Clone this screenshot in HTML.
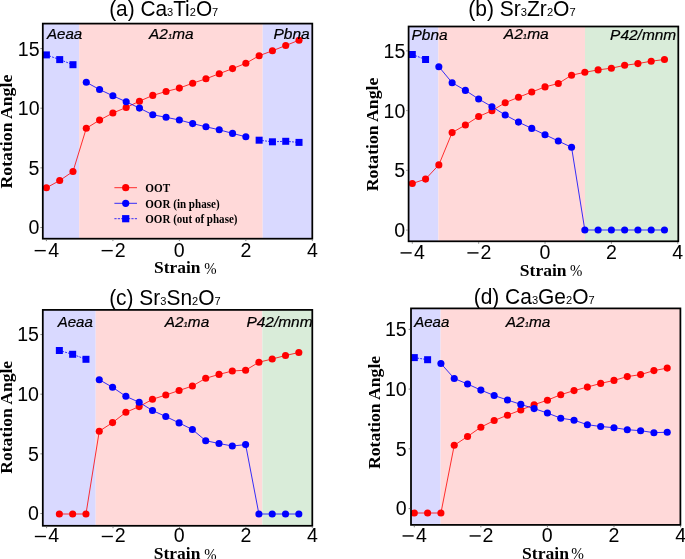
<!DOCTYPE html>
<html><head><meta charset="utf-8">
<style>
html,body{margin:0;padding:0;background:#fff;}
body{width:685px;height:559px;overflow:hidden;position:relative;}
svg{position:absolute;left:0;top:0;will-change:transform;}
</style></head><body>
<svg width="685" height="559" viewBox="0 0 685 559">
<rect x="42.8" y="23.6" width="36.4" height="215.1" fill="#d9d9ff"/>
<rect x="79.2" y="23.6" width="183.5" height="215.1" fill="#ffd9d9"/>
<rect x="262.7" y="23.6" width="49.6" height="215.1" fill="#d9d9ff"/>
<clipPath id="cpa"><rect x="42.8" y="23.6" width="269.5" height="215.1"/></clipPath>
<g clip-path="url(#cpa)">
<polyline points="46.4,187.8 59.7,180.5 72.99,171.5 86.29,128.3 99.58,120.1 112.88,113 126.18,107.5 139.47,101.2 152.77,95.4 166.06,91.5 179.36,88.1 192.66,83.2 205.95,78.8 219.25,73.7 232.54,68.6 245.84,63.3 259.14,55.7 272.43,50.8 285.73,45.5 299.02,40.2" fill="none" stroke="#ff0000" stroke-width="0.8"/>
<circle cx="46.4" cy="187.8" r="3.55" fill="#ff0000"/>
<circle cx="59.7" cy="180.5" r="3.55" fill="#ff0000"/>
<circle cx="72.99" cy="171.5" r="3.55" fill="#ff0000"/>
<circle cx="86.29" cy="128.3" r="3.55" fill="#ff0000"/>
<circle cx="99.58" cy="120.1" r="3.55" fill="#ff0000"/>
<circle cx="112.88" cy="113" r="3.55" fill="#ff0000"/>
<circle cx="126.18" cy="107.5" r="3.55" fill="#ff0000"/>
<circle cx="139.47" cy="101.2" r="3.55" fill="#ff0000"/>
<circle cx="152.77" cy="95.4" r="3.55" fill="#ff0000"/>
<circle cx="166.06" cy="91.5" r="3.55" fill="#ff0000"/>
<circle cx="179.36" cy="88.1" r="3.55" fill="#ff0000"/>
<circle cx="192.66" cy="83.2" r="3.55" fill="#ff0000"/>
<circle cx="205.95" cy="78.8" r="3.55" fill="#ff0000"/>
<circle cx="219.25" cy="73.7" r="3.55" fill="#ff0000"/>
<circle cx="232.54" cy="68.6" r="3.55" fill="#ff0000"/>
<circle cx="245.84" cy="63.3" r="3.55" fill="#ff0000"/>
<circle cx="259.14" cy="55.7" r="3.55" fill="#ff0000"/>
<circle cx="272.43" cy="50.8" r="3.55" fill="#ff0000"/>
<circle cx="285.73" cy="45.5" r="3.55" fill="#ff0000"/>
<circle cx="299.02" cy="40.2" r="3.55" fill="#ff0000"/>
<polyline points="86.29,82.3 99.58,89.5 112.88,95.8 126.18,101.8 139.47,108.1 152.77,114.8 166.06,117.3 179.36,120 192.66,123.6 205.95,126.8 219.25,129.8 232.54,133.4 245.84,136.8" fill="none" stroke="#0000ff" stroke-width="0.8"/>
<circle cx="86.29" cy="82.3" r="3.55" fill="#0000ff"/>
<circle cx="99.58" cy="89.5" r="3.55" fill="#0000ff"/>
<circle cx="112.88" cy="95.8" r="3.55" fill="#0000ff"/>
<circle cx="126.18" cy="101.8" r="3.55" fill="#0000ff"/>
<circle cx="139.47" cy="108.1" r="3.55" fill="#0000ff"/>
<circle cx="152.77" cy="114.8" r="3.55" fill="#0000ff"/>
<circle cx="166.06" cy="117.3" r="3.55" fill="#0000ff"/>
<circle cx="179.36" cy="120" r="3.55" fill="#0000ff"/>
<circle cx="192.66" cy="123.6" r="3.55" fill="#0000ff"/>
<circle cx="205.95" cy="126.8" r="3.55" fill="#0000ff"/>
<circle cx="219.25" cy="129.8" r="3.55" fill="#0000ff"/>
<circle cx="232.54" cy="133.4" r="3.55" fill="#0000ff"/>
<circle cx="245.84" cy="136.8" r="3.55" fill="#0000ff"/>
<polyline points="46.4,54.9 59.7,59.6 72.99,64.7" fill="none" stroke="#0000ff" stroke-width="0.8" stroke-dasharray="1.9 1.1"/>
<rect x="42.9" y="51.4" width="7.0" height="7.0" fill="#0000ff"/>
<rect x="56.2" y="56.1" width="7.0" height="7.0" fill="#0000ff"/>
<rect x="69.49" y="61.2" width="7.0" height="7.0" fill="#0000ff"/>
<polyline points="259.14,140.2 272.43,141.8 285.73,141.3 299.02,142.4" fill="none" stroke="#0000ff" stroke-width="0.8" stroke-dasharray="1.9 1.1"/>
<rect x="255.64" y="136.7" width="7.0" height="7.0" fill="#0000ff"/>
<rect x="268.93" y="138.3" width="7.0" height="7.0" fill="#0000ff"/>
<rect x="282.23" y="137.8" width="7.0" height="7.0" fill="#0000ff"/>
<rect x="295.52" y="138.9" width="7.0" height="7.0" fill="#0000ff"/>
</g>
<line x1="114.4" y1="187.7" x2="137.0" y2="187.7" stroke="#ff0000" stroke-width="0.8"/>
<circle cx="125.7" cy="187.7" r="3.6" fill="#ff0000"/>
<line x1="114.4" y1="203.3" x2="137.0" y2="203.3" stroke="#0000ff" stroke-width="0.8"/>
<circle cx="125.7" cy="203.3" r="3.6" fill="#0000ff"/>
<line x1="114.4" y1="218.7" x2="137.0" y2="218.7" stroke="#0000ff" stroke-width="0.8" stroke-dasharray="2.2 1.2"/>
<rect x="122.10000000000001" y="215.1" width="7.2" height="7.2" fill="#0000ff"/>
<rect x="42.8" y="23.6" width="269.5" height="215.1" fill="none" stroke="#000" stroke-width="1.75"/>
<line x1="40.4" y1="227.5" x2="42" y2="227.5" stroke="#666" stroke-width="0.8"/>
<line x1="40.4" y1="167.85" x2="42" y2="167.85" stroke="#666" stroke-width="0.8"/>
<line x1="40.4" y1="108.2" x2="42" y2="108.2" stroke="#666" stroke-width="0.8"/>
<line x1="40.4" y1="48.55" x2="42" y2="48.55" stroke="#666" stroke-width="0.8"/>
<line x1="46.4" y1="239.5" x2="46.4" y2="241.1" stroke="#666" stroke-width="0.8"/>
<line x1="112.88" y1="239.5" x2="112.88" y2="241.1" stroke="#666" stroke-width="0.8"/>
<line x1="179.36" y1="239.5" x2="179.36" y2="241.1" stroke="#666" stroke-width="0.8"/>
<line x1="245.84" y1="239.5" x2="245.84" y2="241.1" stroke="#666" stroke-width="0.8"/>
<line x1="312.32" y1="239.5" x2="312.32" y2="241.1" stroke="#666" stroke-width="0.8"/>
<rect x="408.6" y="26.5" width="29.8" height="214.8" fill="#d9d9ff"/>
<rect x="438.4" y="26.5" width="146.6" height="214.8" fill="#ffd9d9"/>
<rect x="585" y="26.5" width="93.3" height="214.8" fill="#d9ecd9"/>
<clipPath id="cpb"><rect x="408.6" y="26.5" width="269.7" height="214.8"/></clipPath>
<g clip-path="url(#cpb)">
<polyline points="412.3,183.5 425.57,179.1 438.84,164.9 452.12,132.6 465.39,125 478.66,116.5 491.93,110.7 505.2,102.7 518.48,97.3 531.75,92 545.02,86.9 558.29,83.5 571.56,75.2 584.84,72.3 598.11,69.9 611.38,68.2 624.65,65.3 637.92,63.6 651.2,61.2 664.47,59.5" fill="none" stroke="#ff0000" stroke-width="0.8"/>
<circle cx="412.3" cy="183.5" r="3.55" fill="#ff0000"/>
<circle cx="425.57" cy="179.1" r="3.55" fill="#ff0000"/>
<circle cx="438.84" cy="164.9" r="3.55" fill="#ff0000"/>
<circle cx="452.12" cy="132.6" r="3.55" fill="#ff0000"/>
<circle cx="465.39" cy="125" r="3.55" fill="#ff0000"/>
<circle cx="478.66" cy="116.5" r="3.55" fill="#ff0000"/>
<circle cx="491.93" cy="110.7" r="3.55" fill="#ff0000"/>
<circle cx="505.2" cy="102.7" r="3.55" fill="#ff0000"/>
<circle cx="518.48" cy="97.3" r="3.55" fill="#ff0000"/>
<circle cx="531.75" cy="92" r="3.55" fill="#ff0000"/>
<circle cx="545.02" cy="86.9" r="3.55" fill="#ff0000"/>
<circle cx="558.29" cy="83.5" r="3.55" fill="#ff0000"/>
<circle cx="571.56" cy="75.2" r="3.55" fill="#ff0000"/>
<circle cx="584.84" cy="72.3" r="3.55" fill="#ff0000"/>
<circle cx="598.11" cy="69.9" r="3.55" fill="#ff0000"/>
<circle cx="611.38" cy="68.2" r="3.55" fill="#ff0000"/>
<circle cx="624.65" cy="65.3" r="3.55" fill="#ff0000"/>
<circle cx="637.92" cy="63.6" r="3.55" fill="#ff0000"/>
<circle cx="651.2" cy="61.2" r="3.55" fill="#ff0000"/>
<circle cx="664.47" cy="59.5" r="3.55" fill="#ff0000"/>
<polyline points="438.84,66.7 452.12,82.7 465.39,90.4 478.66,99 491.93,106.7 505.2,115 518.48,122.1 531.75,128.4 545.02,134.7 558.29,141 571.56,147.3 584.84,230 598.11,230 611.38,230 624.65,230 637.92,230 651.2,230 664.47,230" fill="none" stroke="#0000ff" stroke-width="0.8"/>
<circle cx="438.84" cy="66.7" r="3.55" fill="#0000ff"/>
<circle cx="452.12" cy="82.7" r="3.55" fill="#0000ff"/>
<circle cx="465.39" cy="90.4" r="3.55" fill="#0000ff"/>
<circle cx="478.66" cy="99" r="3.55" fill="#0000ff"/>
<circle cx="491.93" cy="106.7" r="3.55" fill="#0000ff"/>
<circle cx="505.2" cy="115" r="3.55" fill="#0000ff"/>
<circle cx="518.48" cy="122.1" r="3.55" fill="#0000ff"/>
<circle cx="531.75" cy="128.4" r="3.55" fill="#0000ff"/>
<circle cx="545.02" cy="134.7" r="3.55" fill="#0000ff"/>
<circle cx="558.29" cy="141" r="3.55" fill="#0000ff"/>
<circle cx="571.56" cy="147.3" r="3.55" fill="#0000ff"/>
<circle cx="584.84" cy="230" r="3.55" fill="#0000ff"/>
<circle cx="598.11" cy="230" r="3.55" fill="#0000ff"/>
<circle cx="611.38" cy="230" r="3.55" fill="#0000ff"/>
<circle cx="624.65" cy="230" r="3.55" fill="#0000ff"/>
<circle cx="637.92" cy="230" r="3.55" fill="#0000ff"/>
<circle cx="651.2" cy="230" r="3.55" fill="#0000ff"/>
<circle cx="664.47" cy="230" r="3.55" fill="#0000ff"/>
<polyline points="412.3,54.5 425.57,59.5" fill="none" stroke="#0000ff" stroke-width="0.8" stroke-dasharray="1.9 1.1"/>
<rect x="408.8" y="51" width="7.0" height="7.0" fill="#0000ff"/>
<rect x="422.07" y="56" width="7.0" height="7.0" fill="#0000ff"/>
</g>
<rect x="408.6" y="26.5" width="269.7" height="214.8" fill="none" stroke="#000" stroke-width="1.75"/>
<line x1="406.2" y1="230.1" x2="407.8" y2="230.1" stroke="#666" stroke-width="0.8"/>
<line x1="406.2" y1="170.35" x2="407.8" y2="170.35" stroke="#666" stroke-width="0.8"/>
<line x1="406.2" y1="110.6" x2="407.8" y2="110.6" stroke="#666" stroke-width="0.8"/>
<line x1="406.2" y1="50.85" x2="407.8" y2="50.85" stroke="#666" stroke-width="0.8"/>
<line x1="412.3" y1="242.1" x2="412.3" y2="243.7" stroke="#666" stroke-width="0.8"/>
<line x1="478.66" y1="242.1" x2="478.66" y2="243.7" stroke="#666" stroke-width="0.8"/>
<line x1="545.02" y1="242.1" x2="545.02" y2="243.7" stroke="#666" stroke-width="0.8"/>
<line x1="611.38" y1="242.1" x2="611.38" y2="243.7" stroke="#666" stroke-width="0.8"/>
<line x1="677.74" y1="242.1" x2="677.74" y2="243.7" stroke="#666" stroke-width="0.8"/>
<rect x="42.8" y="309.9" width="52.9" height="215.9" fill="#d9d9ff"/>
<rect x="95.7" y="309.9" width="166.65" height="215.9" fill="#ffd9d9"/>
<rect x="262.35" y="309.9" width="49.95" height="215.9" fill="#d9ecd9"/>
<clipPath id="cpc"><rect x="42.8" y="309.9" width="269.5" height="215.9"/></clipPath>
<g clip-path="url(#cpc)">
<polyline points="59.35,514 72.66,514 85.96,514 99.27,431.2 112.57,422.6 125.87,412.3 139.18,406.6 152.48,399.3 165.79,395 179.09,390.5 192.39,386 205.7,378.3 219,374.4 232.31,371 245.61,370.2 258.91,362.2 272.22,359 285.52,355.5 298.83,352.5" fill="none" stroke="#ff0000" stroke-width="0.8"/>
<circle cx="59.35" cy="514" r="3.55" fill="#ff0000"/>
<circle cx="72.66" cy="514" r="3.55" fill="#ff0000"/>
<circle cx="85.96" cy="514" r="3.55" fill="#ff0000"/>
<circle cx="99.27" cy="431.2" r="3.55" fill="#ff0000"/>
<circle cx="112.57" cy="422.6" r="3.55" fill="#ff0000"/>
<circle cx="125.87" cy="412.3" r="3.55" fill="#ff0000"/>
<circle cx="139.18" cy="406.6" r="3.55" fill="#ff0000"/>
<circle cx="152.48" cy="399.3" r="3.55" fill="#ff0000"/>
<circle cx="165.79" cy="395" r="3.55" fill="#ff0000"/>
<circle cx="179.09" cy="390.5" r="3.55" fill="#ff0000"/>
<circle cx="192.39" cy="386" r="3.55" fill="#ff0000"/>
<circle cx="205.7" cy="378.3" r="3.55" fill="#ff0000"/>
<circle cx="219" cy="374.4" r="3.55" fill="#ff0000"/>
<circle cx="232.31" cy="371" r="3.55" fill="#ff0000"/>
<circle cx="245.61" cy="370.2" r="3.55" fill="#ff0000"/>
<circle cx="258.91" cy="362.2" r="3.55" fill="#ff0000"/>
<circle cx="272.22" cy="359" r="3.55" fill="#ff0000"/>
<circle cx="285.52" cy="355.5" r="3.55" fill="#ff0000"/>
<circle cx="298.83" cy="352.5" r="3.55" fill="#ff0000"/>
<polyline points="99.27,379.7 112.57,387.3 125.87,396.3 139.18,402.3 152.48,410.5 165.79,416.5 179.09,422.9 192.39,429.5 205.7,440.7 219,443.5 232.31,446 245.61,444.6 258.91,514 272.22,514 285.52,514 298.83,514" fill="none" stroke="#0000ff" stroke-width="0.8"/>
<circle cx="99.27" cy="379.7" r="3.55" fill="#0000ff"/>
<circle cx="112.57" cy="387.3" r="3.55" fill="#0000ff"/>
<circle cx="125.87" cy="396.3" r="3.55" fill="#0000ff"/>
<circle cx="139.18" cy="402.3" r="3.55" fill="#0000ff"/>
<circle cx="152.48" cy="410.5" r="3.55" fill="#0000ff"/>
<circle cx="165.79" cy="416.5" r="3.55" fill="#0000ff"/>
<circle cx="179.09" cy="422.9" r="3.55" fill="#0000ff"/>
<circle cx="192.39" cy="429.5" r="3.55" fill="#0000ff"/>
<circle cx="205.7" cy="440.7" r="3.55" fill="#0000ff"/>
<circle cx="219" cy="443.5" r="3.55" fill="#0000ff"/>
<circle cx="232.31" cy="446" r="3.55" fill="#0000ff"/>
<circle cx="245.61" cy="444.6" r="3.55" fill="#0000ff"/>
<circle cx="258.91" cy="514" r="3.55" fill="#0000ff"/>
<circle cx="272.22" cy="514" r="3.55" fill="#0000ff"/>
<circle cx="285.52" cy="514" r="3.55" fill="#0000ff"/>
<circle cx="298.83" cy="514" r="3.55" fill="#0000ff"/>
<polyline points="59.35,350.5 72.66,354.3 85.96,359.3" fill="none" stroke="#0000ff" stroke-width="0.8" stroke-dasharray="1.9 1.1"/>
<rect x="55.85" y="347" width="7.0" height="7.0" fill="#0000ff"/>
<rect x="69.16" y="350.8" width="7.0" height="7.0" fill="#0000ff"/>
<rect x="82.46" y="355.8" width="7.0" height="7.0" fill="#0000ff"/>
</g>
<rect x="42.8" y="309.9" width="269.5" height="215.9" fill="none" stroke="#000" stroke-width="1.75"/>
<line x1="40.4" y1="513.5" x2="42" y2="513.5" stroke="#666" stroke-width="0.8"/>
<line x1="40.4" y1="453.85" x2="42" y2="453.85" stroke="#666" stroke-width="0.8"/>
<line x1="40.4" y1="394.2" x2="42" y2="394.2" stroke="#666" stroke-width="0.8"/>
<line x1="40.4" y1="334.55" x2="42" y2="334.55" stroke="#666" stroke-width="0.8"/>
<line x1="46.6" y1="526.6" x2="46.6" y2="528.2" stroke="#666" stroke-width="0.8"/>
<line x1="113.02" y1="526.6" x2="113.02" y2="528.2" stroke="#666" stroke-width="0.8"/>
<line x1="179.44" y1="526.6" x2="179.44" y2="528.2" stroke="#666" stroke-width="0.8"/>
<line x1="245.86" y1="526.6" x2="245.86" y2="528.2" stroke="#666" stroke-width="0.8"/>
<line x1="312.28" y1="526.6" x2="312.28" y2="528.2" stroke="#666" stroke-width="0.8"/>
<rect x="411" y="308.4" width="29.6" height="216.5" fill="#d9d9ff"/>
<rect x="440.6" y="308.4" width="239.8" height="216.5" fill="#ffd9d9"/>
<clipPath id="cpd"><rect x="411" y="308.4" width="269.4" height="216.5"/></clipPath>
<g clip-path="url(#cpd)">
<polyline points="414.3,513 427.61,513 440.92,513 454.24,445.3 467.55,436.5 480.86,427.2 494.17,420.5 507.48,415.2 520.8,410 534.11,404.7 547.42,400.2 560.73,394.7 574.04,390.6 587.36,387.1 600.67,383.4 613.98,380.4 627.29,376.6 640.6,374.6 653.92,370.6 667.23,368.1" fill="none" stroke="#ff0000" stroke-width="0.8"/>
<circle cx="414.3" cy="513" r="3.55" fill="#ff0000"/>
<circle cx="427.61" cy="513" r="3.55" fill="#ff0000"/>
<circle cx="440.92" cy="513" r="3.55" fill="#ff0000"/>
<circle cx="454.24" cy="445.3" r="3.55" fill="#ff0000"/>
<circle cx="467.55" cy="436.5" r="3.55" fill="#ff0000"/>
<circle cx="480.86" cy="427.2" r="3.55" fill="#ff0000"/>
<circle cx="494.17" cy="420.5" r="3.55" fill="#ff0000"/>
<circle cx="507.48" cy="415.2" r="3.55" fill="#ff0000"/>
<circle cx="520.8" cy="410" r="3.55" fill="#ff0000"/>
<circle cx="534.11" cy="404.7" r="3.55" fill="#ff0000"/>
<circle cx="547.42" cy="400.2" r="3.55" fill="#ff0000"/>
<circle cx="560.73" cy="394.7" r="3.55" fill="#ff0000"/>
<circle cx="574.04" cy="390.6" r="3.55" fill="#ff0000"/>
<circle cx="587.36" cy="387.1" r="3.55" fill="#ff0000"/>
<circle cx="600.67" cy="383.4" r="3.55" fill="#ff0000"/>
<circle cx="613.98" cy="380.4" r="3.55" fill="#ff0000"/>
<circle cx="627.29" cy="376.6" r="3.55" fill="#ff0000"/>
<circle cx="640.6" cy="374.6" r="3.55" fill="#ff0000"/>
<circle cx="653.92" cy="370.6" r="3.55" fill="#ff0000"/>
<circle cx="667.23" cy="368.1" r="3.55" fill="#ff0000"/>
<polyline points="440.92,363.5 454.24,378.5 467.55,384 480.86,390.1 494.17,395.5 507.48,400 520.8,404.4 534.11,408.6 547.42,413 560.73,418.2 574.04,420.2 587.36,424.7 600.67,426.5 613.98,427.7 627.29,429.7 640.6,430.7 653.92,432.7 667.23,432.2" fill="none" stroke="#0000ff" stroke-width="0.8"/>
<circle cx="440.92" cy="363.5" r="3.55" fill="#0000ff"/>
<circle cx="454.24" cy="378.5" r="3.55" fill="#0000ff"/>
<circle cx="467.55" cy="384" r="3.55" fill="#0000ff"/>
<circle cx="480.86" cy="390.1" r="3.55" fill="#0000ff"/>
<circle cx="494.17" cy="395.5" r="3.55" fill="#0000ff"/>
<circle cx="507.48" cy="400" r="3.55" fill="#0000ff"/>
<circle cx="520.8" cy="404.4" r="3.55" fill="#0000ff"/>
<circle cx="534.11" cy="408.6" r="3.55" fill="#0000ff"/>
<circle cx="547.42" cy="413" r="3.55" fill="#0000ff"/>
<circle cx="560.73" cy="418.2" r="3.55" fill="#0000ff"/>
<circle cx="574.04" cy="420.2" r="3.55" fill="#0000ff"/>
<circle cx="587.36" cy="424.7" r="3.55" fill="#0000ff"/>
<circle cx="600.67" cy="426.5" r="3.55" fill="#0000ff"/>
<circle cx="613.98" cy="427.7" r="3.55" fill="#0000ff"/>
<circle cx="627.29" cy="429.7" r="3.55" fill="#0000ff"/>
<circle cx="640.6" cy="430.7" r="3.55" fill="#0000ff"/>
<circle cx="653.92" cy="432.7" r="3.55" fill="#0000ff"/>
<circle cx="667.23" cy="432.2" r="3.55" fill="#0000ff"/>
<polyline points="414.3,357.6 427.61,359.7" fill="none" stroke="#0000ff" stroke-width="0.8" stroke-dasharray="1.9 1.1"/>
<rect x="410.8" y="354.1" width="7.0" height="7.0" fill="#0000ff"/>
<rect x="424.11" y="356.2" width="7.0" height="7.0" fill="#0000ff"/>
</g>
<rect x="411" y="308.4" width="269.4" height="216.5" fill="none" stroke="#000" stroke-width="1.75"/>
<line x1="408.6" y1="508.6" x2="410.2" y2="508.6" stroke="#666" stroke-width="0.8"/>
<line x1="408.6" y1="448.85" x2="410.2" y2="448.85" stroke="#666" stroke-width="0.8"/>
<line x1="408.6" y1="389.1" x2="410.2" y2="389.1" stroke="#666" stroke-width="0.8"/>
<line x1="408.6" y1="329.35" x2="410.2" y2="329.35" stroke="#666" stroke-width="0.8"/>
<line x1="414.3" y1="525.7" x2="414.3" y2="527.3" stroke="#666" stroke-width="0.8"/>
<line x1="480.86" y1="525.7" x2="480.86" y2="527.3" stroke="#666" stroke-width="0.8"/>
<line x1="547.42" y1="525.7" x2="547.42" y2="527.3" stroke="#666" stroke-width="0.8"/>
<line x1="613.98" y1="525.7" x2="613.98" y2="527.3" stroke="#666" stroke-width="0.8"/>
<line x1="680.54" y1="525.7" x2="680.54" y2="527.3" stroke="#666" stroke-width="0.8"/>
<text transform="translate(109.14,15.76) scale(0.9617,1)" style='font-family:"Liberation Sans",sans-serif;font-size:21.68px' fill="#000">(a) Ca<tspan style="font-size:0.53em">3</tspan>Ti<tspan style="font-size:0.53em">2</tspan>O<tspan style="font-size:0.53em">7</tspan></text>
<text transform="translate(468.22,15.76) scale(0.9703,1)" style='font-family:"Liberation Sans",sans-serif;font-size:21.68px' fill="#000">(b) Sr<tspan style="font-size:0.53em">3</tspan>Zr<tspan style="font-size:0.53em">2</tspan>O<tspan style="font-size:0.53em">7</tspan></text>
<text transform="translate(109.13,304.56) scale(0.9656,1)" style='font-family:"Liberation Sans",sans-serif;font-size:21.68px' fill="#000">(c) Sr<tspan style="font-size:0.53em">3</tspan>Sn<tspan style="font-size:0.53em">2</tspan>O<tspan style="font-size:0.53em">7</tspan></text>
<text transform="translate(473.73,304.36) scale(0.9662,1)" style='font-family:"Liberation Sans",sans-serif;font-size:21.68px' fill="#000">(d) Ca<tspan style="font-size:0.53em">3</tspan>Ge<tspan style="font-size:0.53em">2</tspan>O<tspan style="font-size:0.53em">7</tspan></text>
<text transform="translate(46.96,38.8) scale(0.9883,1)" style='font-family:"Liberation Sans",sans-serif;font-style:italic;font-size:15.29px' fill="#000" stroke="#000" stroke-width="0.22">Aeaa</text>
<text transform="translate(149.07,38.8) scale(1.0084,1)" style='font-family:"Liberation Sans",sans-serif;font-style:italic;font-size:15.29px' fill="#000" stroke="#000" stroke-width="0.22">A2<tspan style="font-size:0.5em">1</tspan>ma</text>
<text transform="translate(273.41,39.2) scale(1.0180,1)" style='font-family:"Liberation Sans",sans-serif;font-style:italic;font-size:15.29px' fill="#000" stroke="#000" stroke-width="0.22">Pbna</text>
<text transform="translate(411.51,39.5) scale(1.0093,1)" style='font-family:"Liberation Sans",sans-serif;font-style:italic;font-size:15.29px' fill="#000" stroke="#000" stroke-width="0.22">Pbna</text>
<text transform="translate(503.78,38.8) scale(1.0174,1)" style='font-family:"Liberation Sans",sans-serif;font-style:italic;font-size:15.29px' fill="#000" stroke="#000" stroke-width="0.22">A2<tspan style="font-size:0.5em">1</tspan>ma</text>
<text transform="translate(610.11,39.5) scale(1.0109,1)" style='font-family:"Liberation Sans",sans-serif;font-style:italic;font-size:15.29px' fill="#000" stroke="#000" stroke-width="0.22">P42/mnm</text>
<text transform="translate(57.65,326.6) scale(0.9855,1)" style='font-family:"Liberation Sans",sans-serif;font-style:italic;font-size:15.29px' fill="#000" stroke="#000" stroke-width="0.22">Aeaa</text>
<text transform="translate(164.77,326.6) scale(1.0061,1)" style='font-family:"Liberation Sans",sans-serif;font-style:italic;font-size:15.29px' fill="#000" stroke="#000" stroke-width="0.22">A2<tspan style="font-size:0.5em">1</tspan>ma</text>
<g clip-path="url(#cpc)"><text transform="translate(246.41,326.9) scale(1.0109,1)" style='font-family:"Liberation Sans",sans-serif;font-style:italic;font-size:15.29px' fill="#000" stroke="#000" stroke-width="0.22">P42/mnm</text></g>
<text transform="translate(414.15,326.6) scale(0.9855,1)" style='font-family:"Liberation Sans",sans-serif;font-style:italic;font-size:15.29px' fill="#000" stroke="#000" stroke-width="0.22">Aeaa</text>
<text transform="translate(505.77,326.6) scale(1.0084,1)" style='font-family:"Liberation Sans",sans-serif;font-style:italic;font-size:15.29px' fill="#000" stroke="#000" stroke-width="0.22">A2<tspan style="font-size:0.5em">1</tspan>ma</text>
<text transform="translate(154.03,273) scale(1.0271,1)" style='font-family:"Liberation Serif",serif;font-weight:bold;font-size:17px' fill="#000">Strain</text>
<text transform="translate(204.33,273.9) scale(0.8729,1)" style='font-family:"Liberation Serif",serif;font-size:17px' fill="#000">%</text>
<text transform="translate(519.82,275.5) scale(1.0317,1)" style='font-family:"Liberation Serif",serif;font-weight:bold;font-size:17px' fill="#000">Strain</text>
<text transform="translate(569.93,276.3) scale(0.8729,1)" style='font-family:"Liberation Serif",serif;font-size:17px' fill="#000">%</text>
<text transform="translate(153.83,559) scale(1.0271,1)" style='font-family:"Liberation Serif",serif;font-weight:bold;font-size:17px' fill="#000">Strain</text>
<text transform="translate(204.13,559.8) scale(0.8729,1)" style='font-family:"Liberation Serif",serif;font-size:17px' fill="#000">%</text>
<text transform="translate(522.02,558.5) scale(1.0362,1)" style='font-family:"Liberation Serif",serif;font-weight:bold;font-size:17px' fill="#000">Strain</text>
<text transform="translate(571.32,559.3) scale(0.8956,1)" style='font-family:"Liberation Serif",serif;font-size:17px' fill="#000">%</text>
<text transform="translate(12.2,188.44) rotate(-90) scale(1.0427,1)" style='font-family:"Liberation Serif",serif;font-weight:bold;font-size:17px' fill="#000">Rotation Angle</text>
<text transform="translate(377.9,191.24) rotate(-90) scale(1.0418,1)" style='font-family:"Liberation Serif",serif;font-weight:bold;font-size:17px' fill="#000">Rotation Angle</text>
<text transform="translate(11.8,473.74) rotate(-90) scale(1.0353,1)" style='font-family:"Liberation Serif",serif;font-weight:bold;font-size:17px' fill="#000">Rotation Angle</text>
<text transform="translate(380.2,469.04) rotate(-90) scale(1.0381,1)" style='font-family:"Liberation Serif",serif;font-weight:bold;font-size:17px' fill="#000">Rotation Angle</text>
<text transform="translate(145.24,192) scale(0.9715,1)" style='font-family:"Liberation Serif",serif;font-weight:bold;font-size:11.54px' fill="#000">OOT</text>
<text transform="translate(145.25,207.9) scale(0.9589,1)" style='font-family:"Liberation Serif",serif;font-weight:bold;font-size:11.54px' fill="#000">OOR (in phase)</text>
<text transform="translate(145.25,223.1) scale(0.9573,1)" style='font-family:"Liberation Serif",serif;font-weight:bold;font-size:11.54px' fill="#000">OOR (out of phase)</text>
<text transform="translate(28.51,234.45) scale(1.0163,1)" style='font-family:"Liberation Sans",sans-serif;font-size:19.29px' fill="#000">0</text>
<text transform="translate(28.51,174.85) scale(1.0163,1)" style='font-family:"Liberation Sans",sans-serif;font-size:19.29px' fill="#000">5</text>
<text transform="translate(17.73,115.25) scale(1.0163,1)" style='font-family:"Liberation Sans",sans-serif;font-size:19.29px' fill="#000">10</text>
<text transform="translate(17.73,55.65) scale(1.0163,1)" style='font-family:"Liberation Sans",sans-serif;font-size:19.29px' fill="#000">15</text>
<rect x="34.65" y="249.95" width="11.1" height="1.4" fill="#000"/>
<text transform="translate(48.16,256.55) scale(1.0163,1)" style='font-family:"Liberation Sans",sans-serif;font-size:19.29px' fill="#000">4</text>
<rect x="101.62" y="249.95" width="11.1" height="1.4" fill="#000"/>
<text transform="translate(114.64,256.55) scale(1.0163,1)" style='font-family:"Liberation Sans",sans-serif;font-size:19.29px' fill="#000">2</text>
<text transform="translate(173.73,256.55) scale(1.0163,1)" style='font-family:"Liberation Sans",sans-serif;font-size:19.29px' fill="#000">0</text>
<text transform="translate(240.45,256.55) scale(1.0163,1)" style='font-family:"Liberation Sans",sans-serif;font-size:19.29px' fill="#000">2</text>
<text transform="translate(306.93,256.55) scale(1.0163,1)" style='font-family:"Liberation Sans",sans-serif;font-size:19.29px' fill="#000">4</text>
<text transform="translate(394.31,237.05) scale(1.0163,1)" style='font-family:"Liberation Sans",sans-serif;font-size:19.29px' fill="#000">0</text>
<text transform="translate(394.31,177.45) scale(1.0163,1)" style='font-family:"Liberation Sans",sans-serif;font-size:19.29px' fill="#000">5</text>
<text transform="translate(383.53,117.85) scale(1.0163,1)" style='font-family:"Liberation Sans",sans-serif;font-size:19.29px' fill="#000">10</text>
<text transform="translate(383.53,58.25) scale(1.0163,1)" style='font-family:"Liberation Sans",sans-serif;font-size:19.29px' fill="#000">15</text>
<rect x="400.55" y="252.2" width="11.1" height="1.4" fill="#000"/>
<text transform="translate(414.06,258.8) scale(1.0163,1)" style='font-family:"Liberation Sans",sans-serif;font-size:19.29px' fill="#000">4</text>
<rect x="467.4" y="252.2" width="11.1" height="1.4" fill="#000"/>
<text transform="translate(480.42,258.8) scale(1.0163,1)" style='font-family:"Liberation Sans",sans-serif;font-size:19.29px' fill="#000">2</text>
<text transform="translate(539.38,258.8) scale(1.0163,1)" style='font-family:"Liberation Sans",sans-serif;font-size:19.29px' fill="#000">0</text>
<text transform="translate(605.99,258.8) scale(1.0163,1)" style='font-family:"Liberation Sans",sans-serif;font-size:19.29px' fill="#000">2</text>
<text transform="translate(672.35,258.8) scale(1.0163,1)" style='font-family:"Liberation Sans",sans-serif;font-size:19.29px' fill="#000">4</text>
<text transform="translate(27.91,520.2) scale(1.0163,1)" style='font-family:"Liberation Sans",sans-serif;font-size:19.29px' fill="#000">0</text>
<text transform="translate(27.91,460.6) scale(1.0163,1)" style='font-family:"Liberation Sans",sans-serif;font-size:19.29px' fill="#000">5</text>
<text transform="translate(17.13,401) scale(1.0163,1)" style='font-family:"Liberation Sans",sans-serif;font-size:19.29px' fill="#000">10</text>
<text transform="translate(17.13,341.4) scale(1.0163,1)" style='font-family:"Liberation Sans",sans-serif;font-size:19.29px' fill="#000">15</text>
<rect x="34.85" y="535.8" width="11.1" height="1.4" fill="#000"/>
<text transform="translate(48.36,542.4) scale(1.0163,1)" style='font-family:"Liberation Sans",sans-serif;font-size:19.29px' fill="#000">4</text>
<rect x="101.76" y="535.8" width="11.1" height="1.4" fill="#000"/>
<text transform="translate(114.78,542.4) scale(1.0163,1)" style='font-family:"Liberation Sans",sans-serif;font-size:19.29px' fill="#000">2</text>
<text transform="translate(173.81,542.4) scale(1.0163,1)" style='font-family:"Liberation Sans",sans-serif;font-size:19.29px' fill="#000">0</text>
<text transform="translate(240.47,542.4) scale(1.0163,1)" style='font-family:"Liberation Sans",sans-serif;font-size:19.29px' fill="#000">2</text>
<text transform="translate(306.89,542.4) scale(1.0163,1)" style='font-family:"Liberation Sans",sans-serif;font-size:19.29px' fill="#000">4</text>
<text transform="translate(395.71,515.35) scale(1.0163,1)" style='font-family:"Liberation Sans",sans-serif;font-size:19.29px' fill="#000">0</text>
<text transform="translate(395.71,455.6) scale(1.0163,1)" style='font-family:"Liberation Sans",sans-serif;font-size:19.29px' fill="#000">5</text>
<text transform="translate(384.93,395.85) scale(1.0163,1)" style='font-family:"Liberation Sans",sans-serif;font-size:19.29px' fill="#000">10</text>
<text transform="translate(384.93,336.1) scale(1.0163,1)" style='font-family:"Liberation Sans",sans-serif;font-size:19.29px' fill="#000">15</text>
<rect x="402.55" y="535.25" width="11.1" height="1.4" fill="#000"/>
<text transform="translate(416.06,541.85) scale(1.0163,1)" style='font-family:"Liberation Sans",sans-serif;font-size:19.29px' fill="#000">4</text>
<rect x="469.6" y="535.25" width="11.1" height="1.4" fill="#000"/>
<text transform="translate(482.62,541.85) scale(1.0163,1)" style='font-family:"Liberation Sans",sans-serif;font-size:19.29px' fill="#000">2</text>
<text transform="translate(541.79,541.85) scale(1.0163,1)" style='font-family:"Liberation Sans",sans-serif;font-size:19.29px' fill="#000">0</text>
<text transform="translate(608.59,541.85) scale(1.0163,1)" style='font-family:"Liberation Sans",sans-serif;font-size:19.29px' fill="#000">2</text>
<text transform="translate(675.15,541.85) scale(1.0163,1)" style='font-family:"Liberation Sans",sans-serif;font-size:19.29px' fill="#000">4</text>
</svg>
</body></html>
